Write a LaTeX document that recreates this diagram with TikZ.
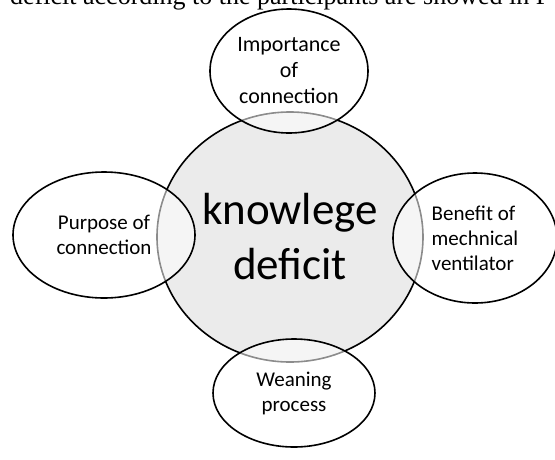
\documentclass[tikz,border=0pt]{standalone}
\usepackage{fontspec}
\setmainfont{Carlito}
\newfontfamily\serifline{Liberation Serif}
\usetikzlibrary{shapes.geometric}
\begin{document}
\begin{tikzpicture}[x=1pt,y=-1pt,
  outline/.style={draw=black,line width=1.6pt},
  core/.style={ellipse,outline,fill=black!8,inner sep=0pt,
    minimum width=266pt,minimum height=250pt,align=center,
    font=\fontsize{45}{55}\selectfont},
  topic/.style={ellipse,outline,fill=white,fill opacity=0.55,text opacity=1,
    inner sep=0pt,font=\fontsize{21}{25}\selectfont}]
\useasboundingbox (0,0) rectangle (555,459);
\clip (0,0) rectangle (555,459);
% running text line above the figure
\node[anchor=base west,inner sep=0pt,font=\serifline\fontsize{26}{30}\selectfont]
  (caption) at (10,4) {deficit according to the participants are showed in F};
% central concept
\node[core] (deficit) at (290,237) {knowlege\\deficit};
% surrounding topics
\node[topic,minimum width=158pt,minimum height=124pt,align=center,
  font=\fontsize{22}{26}\selectfont] (importance) at (289,71)
  {Importance\\of\\connection};
\node[topic,minimum width=182pt,minimum height=126pt,align=center] (purpose) at (104,235)
  {Purpose of\\connection};
\node[topic,minimum width=164pt,minimum height=130pt,align=left] (benefit) at (475,238)
  {Benefit of\\mechnical\\ventilator};
\node[topic,minimum width=162pt,minimum height=108pt,align=center] (weaning) at (294,393)
  {Weaning\\process};
\end{tikzpicture}
\end{document}
